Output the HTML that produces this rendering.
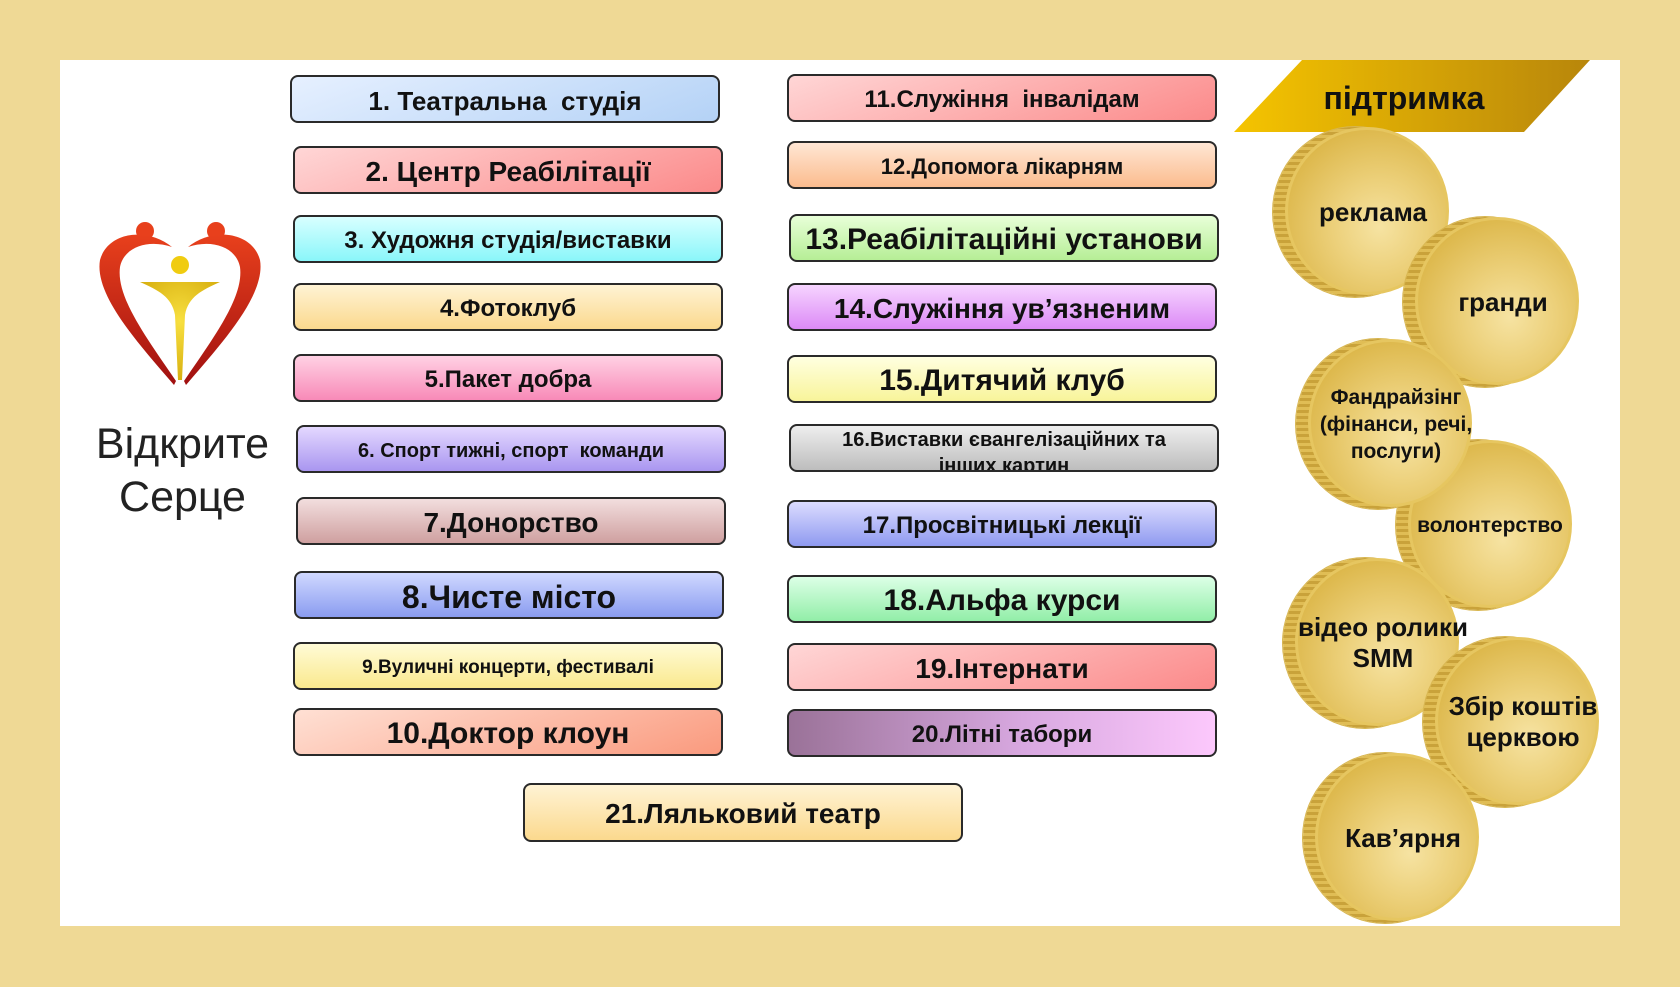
<!DOCTYPE html>
<html><head><meta charset="utf-8"><style>
*{margin:0;padding:0;box-sizing:border-box}
body{width:1680px;height:987px;background:#efd995;position:relative;overflow:hidden;font-family:"Liberation Sans","DejaVu Sans",sans-serif}
#panel{position:absolute;left:60px;top:60px;width:1560px;height:866px;background:#fff}
.b{position:absolute;height:48px;border:2px solid #2a2a2a;border-radius:8px;display:flex;align-items:center;justify-content:center;font-weight:bold;color:#111;white-space:nowrap;line-height:1;padding-top:3px}
.coin{position:absolute;width:176px;height:170px}
.coin .edge{position:absolute;left:0;top:0;width:164px;height:170px;border-radius:50%;background:repeating-linear-gradient(0deg,#c9a23a 0 3px,#e0bd55 3px 6px);box-shadow:0 0 0 1px #d8b650}
.coin .face{position:absolute;left:12px;top:0;width:164px;height:168px;border-radius:50%;background:radial-gradient(circle at 58% 60%,#f6e3a2 0%,#ecd07a 35%,#ddb84c 75%,#d2a93a 100%);border:3px solid #e6c660}
.coin .t{position:absolute;left:0;right:-12px;top:0;bottom:0;display:flex;align-items:center;justify-content:center;text-align:center;font-weight:bold;font-size:26px;color:#111;line-height:1.1;padding-left:12px}
</style></head><body>
<div id="panel"></div>

<!-- logo -->
<svg style="position:absolute;left:90px;top:215px" width="180" height="175" viewBox="0 0 180 175">
<defs><linearGradient id="r" x1="0" y1="0" x2="0" y2="1"><stop offset="0" stop-color="#e8401c"/><stop offset="1" stop-color="#a01010"/></linearGradient>
<radialGradient id="y" cx="0.5" cy="0.4" r="0.6"><stop offset="0" stop-color="#f8e040"/><stop offset="1" stop-color="#d8b010"/></radialGradient></defs>
<circle cx="55" cy="16" r="9" fill="#e8401c"/><circle cx="126" cy="16" r="9" fill="#e8401c"/>
<path d="M82 32 C58 12 18 16 10 45 C4 80 48 128 84 170 L86 166 C56 122 26 82 30 52 C34 32 58 24 82 32Z" fill="url(#r)"/>
<path d="M98 32 C122 12 162 16 170 45 C176 80 132 128 96 170 L94 166 C124 122 154 82 150 52 C146 32 122 24 98 32Z" fill="url(#r)"/>
<circle cx="90" cy="50" r="9" fill="#f0cc10"/>
<path d="M50 67 L130 67 C112 75 98 82 95 100 L92 165 L88 165 L85 100 C82 82 68 75 50 67Z" fill="url(#y)"/>
</svg>
<div style="position:absolute;left:80px;top:418px;width:205px;text-align:center;font-size:43px;line-height:53px;color:#222">Відкрите<br>Серце</div>

<!-- left boxes -->
<div class="b" style="left:290px;top:75px;width:430px;font-size:26px;background:linear-gradient(160deg,#e6f0ff,#b4d2f6)">1. Театральна&nbsp; студія</div>
<div class="b" style="left:293px;top:146px;width:430px;font-size:28px;background:linear-gradient(160deg,#ffd6d6,#fb8a8a)">2. Центр Реабілітації</div>
<div class="b" style="left:293px;top:215px;width:430px;font-size:24px;background:linear-gradient(180deg,#d8ffff,#8af6fa)">3. Художня студія/виставки</div>
<div class="b" style="left:293px;top:283px;width:430px;font-size:24px;background:linear-gradient(180deg,#fff3d4,#fbd98e)">4.Фотоклуб</div>
<div class="b" style="left:293px;top:354px;width:430px;font-size:24px;background:linear-gradient(180deg,#ffd1e4,#f88ab8)">5.Пакет добра</div>
<div class="b" style="left:296px;top:425px;width:430px;font-size:20px;background:linear-gradient(180deg,#e4d8ff,#a996f0)">6. Спорт тижні, спорт&nbsp; команди</div>
<div class="b" style="left:296px;top:497px;width:430px;font-size:28px;background:linear-gradient(180deg,#f2dede,#cfa0a0)">7.Донорство</div>
<div class="b" style="left:294px;top:571px;width:430px;font-size:32px;background:linear-gradient(180deg,#d0d8ff,#8a9cf0)">8.Чисте місто</div>
<div class="b" style="left:293px;top:642px;width:430px;font-size:19px;background:linear-gradient(180deg,#fffbd6,#fae98e)">9.Вуличні концерти, фестивалі</div>
<div class="b" style="left:293px;top:708px;width:430px;font-size:30px;background:linear-gradient(160deg,#ffe0d4,#fa9a7e)">10.Доктор клоун</div>

<!-- right boxes -->
<div class="b" style="left:787px;top:74px;width:430px;font-size:24px;background:linear-gradient(160deg,#ffd6d6,#fb8a8a)">11.Служіння&nbsp; інвалідам</div>
<div class="b" style="left:787px;top:141px;width:430px;font-size:22px;background:linear-gradient(180deg,#ffe6d4,#fbbc8e)">12.Допомога лікарням</div>
<div class="b" style="left:789px;top:214px;width:430px;font-size:30px;background:linear-gradient(180deg,#e8ffd8,#b6ee96)">13.Реабілітаційні установи</div>
<div class="b" style="left:787px;top:283px;width:430px;font-size:28px;background:linear-gradient(180deg,#f6d4ff,#dc8af6)">14.Служіння ув’язненим</div>
<div class="b" style="left:787px;top:355px;width:430px;font-size:30px;background:linear-gradient(180deg,#ffffe0,#f8f49a)">15.Дитячий клуб</div>
<div class="b" style="left:789px;top:424px;width:430px;font-size:20px;background:linear-gradient(180deg,#eeeeee,#bdbdbd);flex-direction:column;line-height:26px;overflow:hidden;justify-content:flex-start;padding-top:1px">16.Виставки євангелізаційних та<span>інших картин</span></div>
<div class="b" style="left:787px;top:500px;width:430px;font-size:24px;background:linear-gradient(180deg,#dcdcff,#8f9af0)">17.Просвітницькі лекції</div>
<div class="b" style="left:787px;top:575px;width:430px;font-size:30px;background:linear-gradient(180deg,#dcffe6,#92eea8)">18.Альфа курси</div>
<div class="b" style="left:787px;top:643px;width:430px;font-size:28px;background:linear-gradient(160deg,#ffd6d6,#fb8a8a)">19.Інтернати</div>
<div class="b" style="left:787px;top:709px;width:430px;font-size:24px;background:linear-gradient(90deg,#9a7298,#d8a8e0 55%,#fcc8fc)">20.Літні табори</div>

<div class="b" style="left:523px;top:783px;width:440px;height:59px;font-size:28px;background:linear-gradient(180deg,#fff3d4,#fbd98e)">21.Ляльковий театр</div>

<!-- banner -->
<svg style="position:absolute;left:1234px;top:60px" width="356" height="73"><defs><linearGradient id="g" x1="0" x2="1"><stop offset="0" stop-color="#f5c400"/><stop offset="1" stop-color="#b8860b"/></linearGradient></defs><polygon points="68,0 356,0 290,72 0,72" fill="url(#g)"/></svg>
<div style="position:absolute;left:1234px;top:80px;width:340px;text-align:center;font-size:32px;font-weight:bold;color:#111">підтримка</div>

<!-- coins -->
<div class="coin" style="left:1273px;top:127px"><div class="edge"></div><div class="face"></div><div class="t">реклама</div></div>
<div class="coin" style="left:1403px;top:217px"><div class="edge"></div><div class="face"></div><div class="t">гранди</div></div>
<div class="coin" style="left:1396px;top:440px"><div class="edge"></div><div class="face"></div><div class="t"></div></div>
<div class="coin" style="left:1296px;top:339px"><div class="edge"></div><div class="face"></div><div class="t" style="font-size:21px;line-height:27px">Фандрайзінг<br>(фінанси, речі,<br>послуги)</div></div>
<div style="position:absolute;left:1396px;top:514px;width:176px;padding-left:12px;text-align:center;font-weight:bold;font-size:21px;color:#111;white-space:nowrap">волонтерство</div>
<div class="coin" style="left:1283px;top:558px"><div class="edge"></div><div class="face"></div><div class="t" style="line-height:31px">відео ролики<br>SMM</div></div>
<div class="coin" style="left:1423px;top:637px"><div class="edge"></div><div class="face"></div><div class="t" style="line-height:31px">Збір коштів<br>церквою</div></div>
<div class="coin" style="left:1303px;top:753px"><div class="edge"></div><div class="face"></div><div class="t">Кав’ярня</div></div>
</body></html>
